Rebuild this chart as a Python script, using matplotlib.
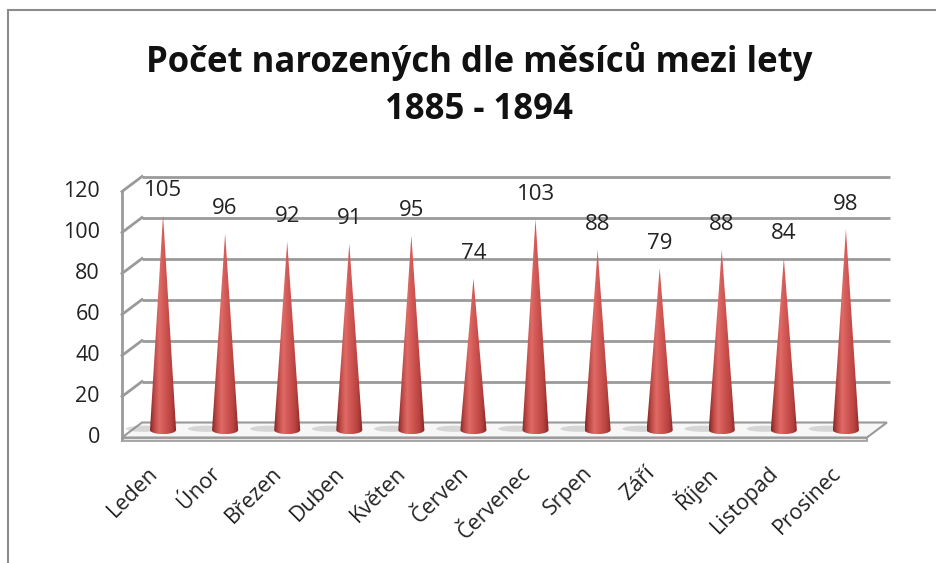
import numpy as np
import matplotlib.pyplot as plt
from matplotlib.colors import LinearSegmentedColormap
from matplotlib.patches import Polygon, PathPatch, Ellipse
from matplotlib.path import Path

plt.rcParams['font.family'] = ['Open Sans', 'DejaVu Sans']

months = ["Leden", "Únor", "Březen", "Duben", "Květen", "Červen",
          "Červenec", "Srpen", "Září", "Říjen", "Listopad", "Prosinec"]
births = [105, 96, 92, 91, 95, 74, 103, 88, 79, 88, 84, 98]
y_ticks = [0, 20, 40, 60, 80, 100, 120]
title = "Počet narozených dle měsíců mezi lety\n1885 - 1894"

W, H = 936, 563
fig = plt.figure(figsize=(W / 100, H / 100), dpi=100)
ax = fig.add_axes([0, 0, 1, 1])

# pixel mapping: category i -> 132 + 62.08*(i+0.5), value v -> 430 - 2.05*v (from top)
sx, sy = 62.08, 2.05
ax.set_xlim(-0.5 - 132 / sx, -0.5 + (W - 132) / sx)
ax.set_ylim(-(H - 430) / sy, 430 / sy)
ax.axis("off")

# depth offsets (half depth) in data units
ddx, ddy = 10 / sx, 7.5 / sy
n = len(months)
x0, x1 = -0.5, n - 0.5
grid_col = "#9a9a9a"

# back wall gridlines + left wall diagonals
for v in y_ticks[1:]:
    ax.plot([x0 + ddx, x1 + ddx + 0.05], [v + ddy, v + ddy], color=grid_col, lw=2, solid_capstyle="butt")
    ax.plot([x0 + ddx, x0 - ddx], [v + ddy, v - ddy], color=grid_col, lw=2)
ax.plot([x0 - ddx, x0 - ddx], [-ddy, y_ticks[-1] - ddy], color=grid_col, lw=2)

# floor slab
th = 1.6
ax.add_patch(Polygon([(x0 - ddx, -ddy), (x1 - ddx, -ddy), (x1 - ddx, -ddy - th), (x0 - ddx, -ddy - th)],
                     closed=True, fc="#e6e6e6", ec=grid_col, lw=1.2))
ax.add_patch(Polygon([(x0 + ddx, ddy), (x1 + ddx, ddy), (x1 - ddx, -ddy), (x0 - ddx, -ddy)],
                     closed=True, fc="#f7f7f7", ec=grid_col, lw=1.5))
ax.plot([x0 - ddx, x0 - ddx], [-ddy, -ddy - th], color=grid_col, lw=1.2)

# cone shading
cmap = LinearSegmentedColormap.from_list("cone", [
    (0.0, "#842421"), (0.15, "#bb4744"), (0.35, "#e06a66"),
    (0.55, "#d05652"), (0.8, "#b8423f"), (1.0, "#842421")])
grad = np.linspace(0, 1, 256).reshape(1, -1)

r, e = 0.21, 2.0
for i, v in enumerate(births):
    # shadow on floor
    ax.add_patch(Ellipse((i - 0.3, 0.6), 0.6, 3.0, fc="#8a8a8a", ec="none", alpha=0.3))
    t = np.linspace(np.pi, 2 * np.pi, 30)
    pts = [(i + r * np.cos(a), e * np.sin(a)) for a in t] + [(i, v), (i - r, 0)]
    path = Path(pts, closed=False)
    patch = PathPatch(path, fc="none", ec="none")
    ax.add_patch(patch)
    im = ax.imshow(grad, cmap=cmap, aspect="auto", extent=[i - r, i + r, -e, v],
                   interpolation="bilinear", zorder=3)
    im.set_clip_path(patch)
    ax.text(i, v + 12, str(v), ha="center", va="center", fontsize=16, color="#222222", zorder=4)
    ax.text(i - 0.13, -19.5, months[i], rotation=45, rotation_mode="anchor",
            ha="right", va="center", fontsize=15.5, color="#222222")

for v in y_ticks:
    ax.text(x0 - 32 / sx, v - ddy, str(v), ha="right", va="center", fontsize=15.5, color="#222222")

fig.text(479 / W, 1 - 85 / H, title, ha="center", va="center", fontsize=25,
         fontweight="bold", linespacing=1.4, color="#111111")

# chart frame (top and left only visible)
fig.add_artist(plt.Line2D([8 / W, 1], [1 - 9.5 / H, 1 - 9.5 / H], color="#8c8c8c", lw=1.5))
fig.add_artist(plt.Line2D([8 / W, 8 / W], [0, 1 - 9.5 / H], color="#8c8c8c", lw=1.5))

fig.savefig("out.png", dpi=100)
